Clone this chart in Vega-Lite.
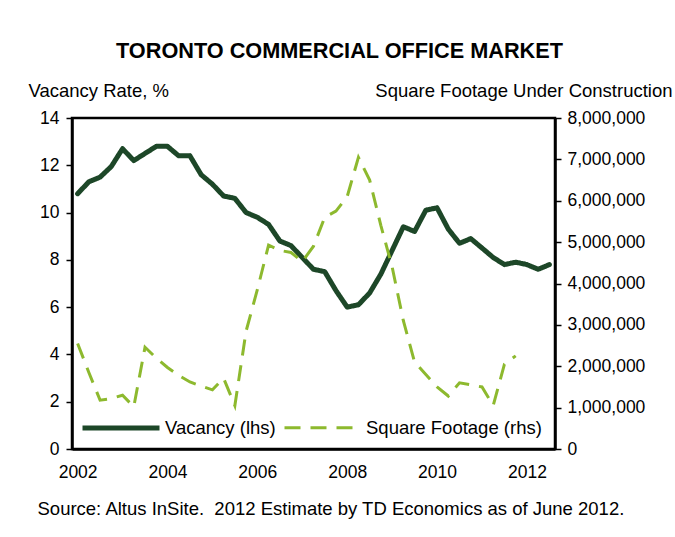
{
  "$schema": "https://vega.github.io/schema/vega-lite/v6.json",
  "width": 483,
  "height": 331,
  "autosize": {"type": "none"},
  "padding": {"left": 72, "top": 118, "right": 120, "bottom": 88},
  "background": "white",
  "title": {"text": "TORONTO COMMERCIAL OFFICE MARKET", "anchor": "middle", "frame": "group", "dx": 26, "dy": 2, "fontSize": 21.7, "font": "Liberation Sans", "fontWeight": "bold", "color": "black", "offset": 20},
  "config": {
    "font": "Liberation Sans",
    "view": {"stroke": "black", "strokeWidth": 2.5},
    "axis": {"domainColor": "black", "domainWidth": 2.5, "tickColor": "black", "tickWidth": 1.5, "labelColor": "black", "titleColor": "black", "labelFont": "Liberation Sans", "titleFont": "Liberation Sans", "labelFontSize": 17.5, "titleFontSize": 18.5, "titleFontWeight": "normal", "grid": false},
    "legend": {"orient": "none", "legendX": 8, "legendY": 269, "direction": "horizontal", "title": null, "symbolSize": 5929, "symbolType": "stroke", "labelFontSize": 18.5, "labelColor": "black", "labelFont": "Liberation Sans", "labelOffset": 3, "columnPadding": 2, "labelLimit": 400}
  },
  "datasets": {
    "d": [
      {"t": 2002.0, "series": "Vacancy (lhs)", "v": 10.8},
      {"t": 2002.25, "series": "Vacancy (lhs)", "v": 11.3},
      {"t": 2002.5, "series": "Vacancy (lhs)", "v": 11.5},
      {"t": 2002.75, "series": "Vacancy (lhs)", "v": 11.95},
      {"t": 2003.0, "series": "Vacancy (lhs)", "v": 12.7},
      {"t": 2003.25, "series": "Vacancy (lhs)", "v": 12.2},
      {"t": 2003.5, "series": "Vacancy (lhs)", "v": 12.5},
      {"t": 2003.75, "series": "Vacancy (lhs)", "v": 12.8},
      {"t": 2004.0, "series": "Vacancy (lhs)", "v": 12.8},
      {"t": 2004.25, "series": "Vacancy (lhs)", "v": 12.4},
      {"t": 2004.5, "series": "Vacancy (lhs)", "v": 12.4},
      {"t": 2004.75, "series": "Vacancy (lhs)", "v": 11.6},
      {"t": 2005.0, "series": "Vacancy (lhs)", "v": 11.2},
      {"t": 2005.25, "series": "Vacancy (lhs)", "v": 10.7},
      {"t": 2005.5, "series": "Vacancy (lhs)", "v": 10.6},
      {"t": 2005.75, "series": "Vacancy (lhs)", "v": 10.0},
      {"t": 2006.0, "series": "Vacancy (lhs)", "v": 9.8},
      {"t": 2006.25, "series": "Vacancy (lhs)", "v": 9.5},
      {"t": 2006.5, "series": "Vacancy (lhs)", "v": 8.8},
      {"t": 2006.75, "series": "Vacancy (lhs)", "v": 8.6},
      {"t": 2007.0, "series": "Vacancy (lhs)", "v": 8.1},
      {"t": 2007.25, "series": "Vacancy (lhs)", "v": 7.6},
      {"t": 2007.5, "series": "Vacancy (lhs)", "v": 7.5},
      {"t": 2007.75, "series": "Vacancy (lhs)", "v": 6.7},
      {"t": 2008.0, "series": "Vacancy (lhs)", "v": 6.0},
      {"t": 2008.25, "series": "Vacancy (lhs)", "v": 6.1},
      {"t": 2008.5, "series": "Vacancy (lhs)", "v": 6.6},
      {"t": 2008.75, "series": "Vacancy (lhs)", "v": 7.4},
      {"t": 2009.0, "series": "Vacancy (lhs)", "v": 8.4},
      {"t": 2009.25, "series": "Vacancy (lhs)", "v": 9.4},
      {"t": 2009.5, "series": "Vacancy (lhs)", "v": 9.2},
      {"t": 2009.75, "series": "Vacancy (lhs)", "v": 10.1},
      {"t": 2010.0, "series": "Vacancy (lhs)", "v": 10.2},
      {"t": 2010.25, "series": "Vacancy (lhs)", "v": 9.3},
      {"t": 2010.5, "series": "Vacancy (lhs)", "v": 8.7},
      {"t": 2010.75, "series": "Vacancy (lhs)", "v": 8.9},
      {"t": 2011.0, "series": "Vacancy (lhs)", "v": 8.5},
      {"t": 2011.25, "series": "Vacancy (lhs)", "v": 8.1},
      {"t": 2011.5, "series": "Vacancy (lhs)", "v": 7.8},
      {"t": 2011.75, "series": "Vacancy (lhs)", "v": 7.9},
      {"t": 2012.0, "series": "Vacancy (lhs)", "v": 7.8},
      {"t": 2012.25, "series": "Vacancy (lhs)", "v": 7.6},
      {"t": 2012.5, "series": "Vacancy (lhs)", "v": 7.8},
      {"t": 2002.0, "series": "Square Footage (rhs)", "v": 2550000},
      {"t": 2002.25, "series": "Square Footage (rhs)", "v": 1850000},
      {"t": 2002.5, "series": "Square Footage (rhs)", "v": 1180000},
      {"t": 2002.75, "series": "Square Footage (rhs)", "v": 1220000},
      {"t": 2003.0, "series": "Square Footage (rhs)", "v": 1300000},
      {"t": 2003.25, "series": "Square Footage (rhs)", "v": 1020000},
      {"t": 2003.5, "series": "Square Footage (rhs)", "v": 2460000},
      {"t": 2003.75, "series": "Square Footage (rhs)", "v": 2200000},
      {"t": 2004.0, "series": "Square Footage (rhs)", "v": 1970000},
      {"t": 2004.25, "series": "Square Footage (rhs)", "v": 1780000},
      {"t": 2004.5, "series": "Square Footage (rhs)", "v": 1620000},
      {"t": 2004.75, "series": "Square Footage (rhs)", "v": 1520000},
      {"t": 2005.0, "series": "Square Footage (rhs)", "v": 1430000},
      {"t": 2005.25, "series": "Square Footage (rhs)", "v": 1710000},
      {"t": 2005.5, "series": "Square Footage (rhs)", "v": 1050000},
      {"t": 2005.75, "series": "Square Footage (rhs)", "v": 2850000},
      {"t": 2006.0, "series": "Square Footage (rhs)", "v": 3850000},
      {"t": 2006.25, "series": "Square Footage (rhs)", "v": 4930000},
      {"t": 2006.5, "series": "Square Footage (rhs)", "v": 4800000},
      {"t": 2006.75, "series": "Square Footage (rhs)", "v": 4750000},
      {"t": 2007.0, "series": "Square Footage (rhs)", "v": 4530000},
      {"t": 2007.25, "series": "Square Footage (rhs)", "v": 4900000},
      {"t": 2007.5, "series": "Square Footage (rhs)", "v": 5600000},
      {"t": 2007.75, "series": "Square Footage (rhs)", "v": 5750000},
      {"t": 2008.0, "series": "Square Footage (rhs)", "v": 6100000},
      {"t": 2008.25, "series": "Square Footage (rhs)", "v": 7050000},
      {"t": 2008.5, "series": "Square Footage (rhs)", "v": 6500000},
      {"t": 2008.75, "series": "Square Footage (rhs)", "v": 5400000},
      {"t": 2009.0, "series": "Square Footage (rhs)", "v": 4400000},
      {"t": 2009.25, "series": "Square Footage (rhs)", "v": 3100000},
      {"t": 2009.5, "series": "Square Footage (rhs)", "v": 2100000},
      {"t": 2009.75, "series": "Square Footage (rhs)", "v": 1800000},
      {"t": 2010.0, "series": "Square Footage (rhs)", "v": 1500000},
      {"t": 2010.25, "series": "Square Footage (rhs)", "v": 1280000},
      {"t": 2010.5, "series": "Square Footage (rhs)", "v": 1600000},
      {"t": 2010.75, "series": "Square Footage (rhs)", "v": 1550000},
      {"t": 2011.0, "series": "Square Footage (rhs)", "v": 1500000},
      {"t": 2011.25, "series": "Square Footage (rhs)", "v": 1050000},
      {"t": 2011.5, "series": "Square Footage (rhs)", "v": 2050000},
      {"t": 2011.75, "series": "Square Footage (rhs)", "v": 2250000}
    ]
  },
  "data": {"name": "d"},
  "encoding": {
    "x": {"field": "t", "type": "quantitative", "scale": {"domain": [2001.875, 2012.625], "nice": false, "zero": false},
      "axis": {"values": [2002, 2004, 2006, 2008, 2010, 2012], "format": "d", "ticks": false, "labelPadding": 14,
        "title": "Source: Altus InSite.\u00a0 2012 Estimate by TD Economics as of June 2012.", "titleFontSize": 18.5, "titleX": -35, "titleY": 59, "titleAlign": "left", "titleBaseline": "middle", "titleAnchor": "start"}},
    "color": {"field": "series", "type": "nominal", "scale": {"domain": ["Vacancy (lhs)", "Square Footage (rhs)"], "range": ["#1d4728", "#8db92e"]}},
    "strokeDash": {"field": "series", "type": "nominal", "scale": {"domain": ["Vacancy (lhs)", "Square Footage (rhs)"], "range": [[1, 0], [16, 10]]}},
    "strokeWidth": {"field": "series", "type": "nominal", "scale": {"domain": ["Vacancy (lhs)", "Square Footage (rhs)"], "range": [5, 3]}}
  },
  "layer": [
    {
      "transform": [{"filter": "datum.series === 'Vacancy (lhs)'"}],
      "mark": {"type": "line", "strokeJoin": "round", "strokeCap": "round"},
      "encoding": {
        "y": {"field": "v", "type": "quantitative", "scale": {"domain": [0, 14], "nice": false},
          "axis": {"orient": "left", "values": [0, 2, 4, 6, 8, 10, 12, 14], "tickSize": 6, "labelPadding": 7,
            "title": "Vacancy Rate, %", "titleAngle": 0, "titleX": -44, "titleY": -28, "titleAlign": "left", "titleBaseline": "middle"}}
      }
    },
    {
      "transform": [{"filter": "datum.series === 'Square Footage (rhs)'"}],
      "mark": {"type": "line", "strokeJoin": "miter", "strokeCap": "butt"},
      "encoding": {
        "y": {"field": "v", "type": "quantitative", "scale": {"domain": [0, 8000000], "nice": false},
          "axis": {"orient": "right", "values": [0, 1000000, 2000000, 3000000, 4000000, 5000000, 6000000, 7000000, 8000000], "format": ",d", "tickSize": 6, "labelPadding": 6,
            "title": "Square Footage Under Construction", "titleAngle": 0, "titleX": 117, "titleY": -28, "titleAlign": "right", "titleBaseline": "middle"}}
      }
    }
  ],
  "resolve": {"scale": {"y": "independent"}}
}
